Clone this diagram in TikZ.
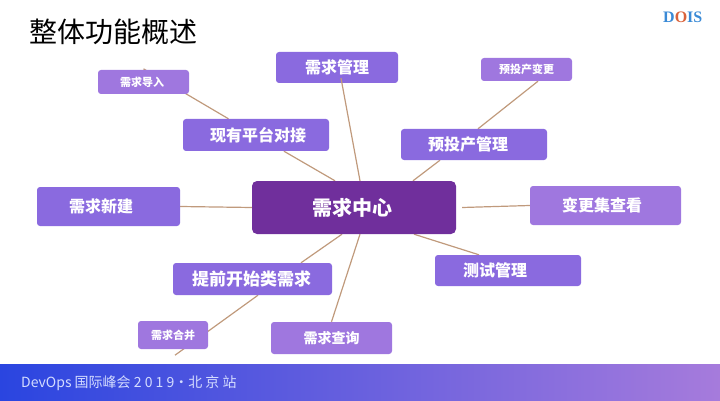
\documentclass[tikz,border=0pt]{standalone}
\usepackage{fontspec}
\setmainfont{Noto Sans CJK SC}
\newfontfamily\logofont{Liberation Serif}
\usetikzlibrary{backgrounds}
\definecolor{hubcol}{HTML}{702F9C}
\definecolor{maincol}{HTML}{8A6ADF}
\definecolor{lightcol}{HTML}{9F77DF}
\definecolor{linkcol}{HTML}{C09A7C}
\definecolor{logoblue}{HTML}{3A8AD6}
\definecolor{logored}{HTML}{D9623A}
\definecolor{footcol}{HTML}{D4DCFF}
\definecolor{bandleft}{HTML}{2A45E0}
\definecolor{bandmid}{HTML}{7D6AE0}
\definecolor{bandright}{HTML}{A67BDC}
\tikzset{
	hubbox/.style={fill=hubcol, rounded corners=5pt, text=white, font=\fontsize{20}{20}\selectfont\bfseries, inner sep=0pt, minimum width=204pt, minimum height=53pt},
	mainbox/.style={fill=maincol, rounded corners=3pt, text=white, font=\fontsize{16}{16}\selectfont\bfseries, inner sep=0pt},
	lightbox/.style={mainbox, fill=lightcol},
	smallbox/.style={lightbox, font=\fontsize{11}{11}\selectfont\bfseries},
	link/.style={color=linkcol, line width=1.2pt}
}

\begin{document}
\begin{tikzpicture}[x=1pt, y=-1pt]
			%%%%% START %%%%%
			\useasboundingbox (0, 0) rectangle (720, 401);

			\node[anchor=west, inner sep=0pt, font=\fontsize{28}{28}\selectfont] (title) at (29.5, 31.5) {整体功能概述};
			\node[anchor=west, inner sep=0pt, font=\logofont\fontsize{16}{16}\selectfont\bfseries] (logo) at (663, 17.5) {\textcolor{logoblue}{D}\textcolor{logored}{O}\textcolor{logoblue}{IS}};

			\node[hubbox] (hub) at (354, 207.5) {\hspace{-3pt}需求中心};

			\node[mainbox, minimum width=122pt, minimum height=31pt] (rmanage) at (337, 67.5) {需求管理};
			\node[mainbox, minimum width=146pt, minimum height=32pt] (rplat) at (256, 135) {\hspace{4pt}现有平台对接};
			\node[mainbox, minimum width=146pt, minimum height=31pt] (rpre) at (474, 144.5) {\hspace{-12pt}预投产管理};
			\node[mainbox, minimum width=143pt, minimum height=39pt] (rnew) at (108.5, 206.5) {\hspace{-15pt}需求新建};
			\node[lightbox, minimum width=151pt, minimum height=39pt] (rview) at (605.5, 205.5) {\hspace{-7pt}变更集查看};
			\node[mainbox, minimum width=146pt, minimum height=31pt] (rtest) at (508, 270.5) {\hspace{-26pt}测试管理};
			\node[mainbox, minimum width=159pt, minimum height=32pt, font=\fontsize{17}{17}\selectfont\bfseries] (rfront) at (252.5, 279) {\hspace{-2pt}提前开始类需求};
			\node[lightbox, minimum width=121pt, minimum height=32pt, font=\fontsize{14}{14}\selectfont\bfseries] (rquery) at (331.5, 338) {需求查询};

			\node[smallbox, minimum width=91pt, minimum height=24pt] (rinput) at (143.5, 82) {\hspace{-3pt}需求导入};
			\node[smallbox, minimum width=91pt, minimum height=23pt] (rchange) at (526.5, 69.5) {预投产变更};
			\node[smallbox, minimum width=70pt, minimum height=28pt] (rmerge) at (173, 335) {需求合并};

			\begin{scope}[on background layer]
				\draw[link] ([yshift=1pt]rinput.north) -- (rplat);
				\draw[link] (rplat) -- ([xshift=-19pt]hub.north);
				\draw[link] ([xshift=11.5pt]rchange.south) -- ([xshift=4pt]rpre.north);
				\draw[link] ([xshift=-34pt]rpre.south) -- ([xshift=59pt]hub.north);
				\draw[link] (rnew.east) -- (hub.west);
				\draw[link] (rview.west) -- ([xshift=6pt]hub.east);
				\draw[link] ([xshift=60pt]hub.south) -- ([xshift=-29pt]rtest.north);
				\draw[link] ([xshift=-12pt]hub.south) -- ([xshift=48.5pt]rfront.north);
				\draw[link] ([xshift=6pt]hub.south) -- (rquery.north);
				\draw[link] ([xshift=5.5pt]rfront.south) -- ([xshift=2pt, yshift=-6pt]rmerge.south);
			\end{scope}
			\draw[link] ([xshift=4pt, yshift=5pt]rmanage.south) -- ([xshift=6pt]hub.north);

			\shade[left color=bandleft, middle color=bandmid, right color=bandright] (0, 364) rectangle (720, 401);
			\node[anchor=west, inner sep=0pt, text=footcol, font=\fontsize{14}{14}\selectfont] (foot) at (21, 383) {DevOps 国际峰会 2 0 1 9·北 京 站};

			%%%%% END %%%%%
\end{tikzpicture}
\end{document}
